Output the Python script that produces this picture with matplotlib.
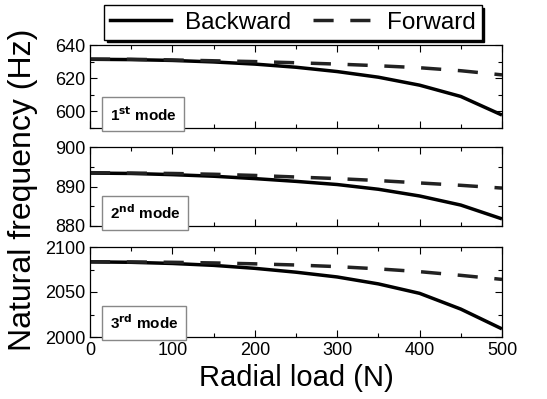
import matplotlib
matplotlib.use("Agg")
import matplotlib.pyplot as plt
from matplotlib.ticker import MultipleLocator
from matplotlib.lines import Line2D

plt.rcParams['font.family'] = ['Liberation Sans', 'DejaVu Sans']

load = [0, 50, 100, 150, 200, 250, 300, 350, 400, 450, 500]

mode1_backward = [631.4, 631.2, 630.7, 629.8, 628.5, 626.6, 624.0, 620.6, 615.8, 609.0, 597.8]
mode1_forward = [631.5, 631.4, 631.0, 630.5, 630.0, 629.3, 628.5, 627.5, 626.3, 624.5, 622.0]

mode2_backward = [893.4, 893.3, 893.0, 892.6, 892.0, 891.3, 890.5, 889.3, 887.6, 885.3, 881.8]
mode2_forward = [893.5, 893.4, 893.3, 893.1, 892.8, 892.4, 892.0, 891.5, 890.9, 890.3, 889.6]

mode3_backward = [2083.5, 2083.0, 2081.7, 2079.6, 2076.3, 2072.0, 2066.7, 2059.0, 2048.5, 2031.0, 2009.0]
mode3_forward = [2083.6, 2083.4, 2083.0, 2082.3, 2081.3, 2080.0, 2078.2, 2075.7, 2072.6, 2068.5, 2064.0]

mode_labels = [r"1$^{\mathbf{st}}$ mode", r"2$^{\mathbf{nd}}$ mode", r"3$^{\mathbf{rd}}$ mode"]
ylims = [(590, 640), (880, 900), (2000, 2100)]
ymajor = [20, 10, 50]
yminor = [10, 5, 25]

series = [(mode1_backward, mode1_forward), (mode2_backward, mode2_forward), (mode3_backward, mode3_forward)]

W, H = 547, 399
fig = plt.figure(figsize=(W / 100, H / 100), dpi=100)

# panel pixel boxes (top, bottom)
boxes = [(45, 128), (147, 226), (247, 337)]
left_px, right_px = 90, 502

axes = []
for i, (top, bot) in enumerate(boxes):
    ax = fig.add_axes([left_px / W, (H - bot) / H, (right_px - left_px) / W, (bot - top) / H])
    b, f = series[i]
    ax.plot(load, b, color='black', lw=2.5, solid_capstyle='butt')
    ax.plot(load, f, color='#222222', lw=2.5, linestyle=(0, (5.8, 4.8)))
    ax.set_xlim(0, 500)
    ax.set_ylim(*ylims[i])
    ax.xaxis.set_major_locator(MultipleLocator(100))
    ax.xaxis.set_minor_locator(MultipleLocator(50))
    ax.yaxis.set_major_locator(MultipleLocator(ymajor[i]))
    ax.yaxis.set_minor_locator(MultipleLocator(yminor[i]))
    ax.tick_params(which='both', direction='in', top=True, right=True, width=0.8)
    ax.tick_params(which='major', length=5, labelsize=13)
    ax.tick_params(which='minor', length=3)
    for s in ax.spines.values():
        s.set_linewidth(0.9)
    if i < 2:
        ax.tick_params(labelbottom=False)
    ax.text(0.048, 0.09, mode_labels[i], transform=ax.transAxes, fontsize=11,
            fontweight='bold', ha='left', va='baseline',
            bbox=dict(boxstyle='square,pad=0.5', facecolor='white', edgecolor='#888888', linewidth=1))
    axes.append(ax)

axes[2].set_xlabel("Radial load (N)", fontsize=21, labelpad=4)
fig.text(23 / W, (H - 190) / H, "Natural frequency (Hz)", rotation=90, fontsize=23,
         ha='center', va='center')

handles = [Line2D([], [], color='black', lw=2.5),
           Line2D([], [], color='#222222', lw=2.5, linestyle=(0, (5.8, 4.8)))]
leg = fig.legend(handles, ["Backward", "Forward"], loc='center',
                 bbox_to_anchor=(293 / W, (H - 22.5) / H), ncol=2, fontsize=17.5,
                 frameon=True, fancybox=False, shadow={'color': 'black', 'alpha': 1},
                 handlelength=2.5, handletextpad=0.55, columnspacing=0.9,
                 borderpad=0.25, borderaxespad=0)
leg.get_frame().set_edgecolor('black')
leg.get_frame().set_linewidth(1)

fig.savefig("out.png", dpi=100)
